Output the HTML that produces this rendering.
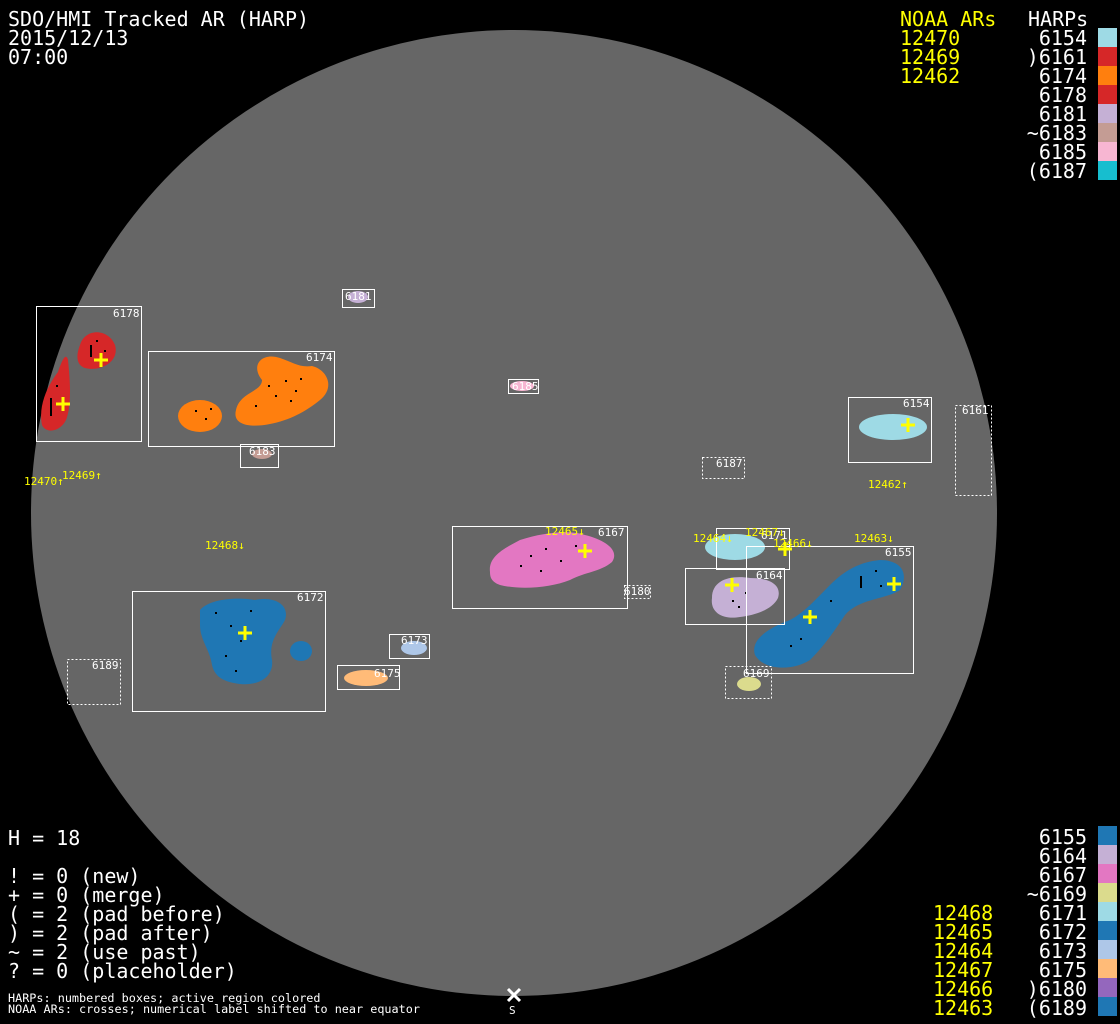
<!DOCTYPE html>
<html><head><meta charset="utf-8"><style>
html,body{margin:0;padding:0;background:#000;}
svg{display:block}
.m{font-family:"DejaVu Sans Mono","Liberation Mono",monospace;}
</style></head><body>
<svg width="1120" height="1024" viewBox="0 0 1120 1024" xmlns="http://www.w3.org/2000/svg" class="m">
<rect width="1120" height="1024" fill="#000"/>
<circle cx="514" cy="513" r="483" fill="#666"/>

<g>
<path d="M80,345 C85,328 108,328 115,345 C120,362 100,372 85,368 C76,365 76,355 80,345Z" fill="#d62728"/>
<path d="M42,425 C38,405 48,385 58,372 C62,360 66,352 68,360 C70,380 72,405 66,420 C60,432 46,434 42,425Z" fill="#d62728"/>
<ellipse cx="200" cy="416" rx="22" ry="16" fill="#ff7f0e"/>
<path d="M236,410 C240,392 262,392 262,380 C250,365 262,352 280,358 C292,362 300,368 312,366 C328,370 335,388 320,400 C305,412 290,420 270,424 C250,428 232,425 236,410Z" fill="#ff7f0e"/>
<path d="M490,572 C488,556 505,548 520,540 C545,532 570,530 585,535 C605,540 620,550 612,562 C600,572 585,572 570,580 C550,588 520,590 500,585 C492,582 490,578 490,572Z" fill="#e377c2"/>
<path d="M200,610 C210,598 240,597 255,600 C275,596 290,605 285,620 C280,630 268,640 272,660 C274,676 260,686 240,684 C225,682 215,678 212,665 C210,650 200,640 200,625Z" fill="#1f77b4"/>
<ellipse cx="301" cy="651" rx="11" ry="10" fill="#1f77b4"/>
<path d="M755,655 C750,640 768,628 790,620 C805,612 815,600 830,585 C845,570 860,562 880,560 C900,560 910,572 900,590 C885,600 860,598 845,615 C835,630 825,645 810,660 C795,670 765,672 755,655Z" fill="#1f77b4"/>
<path d="M712,598 C712,580 730,575 750,578 C770,578 782,585 778,598 C772,610 755,615 740,617 C722,620 710,612 712,598Z" fill="#c5b0d5"/>
<ellipse cx="735" cy="547" rx="30" ry="13" fill="#9edae5"/>
<ellipse cx="893" cy="427" rx="34" ry="13" fill="#9edae5"/>
<ellipse cx="749" cy="684" rx="12" ry="7" fill="#dbdb8d"/>
<ellipse cx="414" cy="648" rx="13" ry="7" fill="#aec7e8"/>
<ellipse cx="366" cy="678" rx="22" ry="8" fill="#ffbb78"/>
<ellipse cx="358" cy="297" rx="10" ry="6" fill="#c5b0d5"/>
<ellipse cx="522" cy="386" rx="12" ry="5" fill="#f7b6d2"/>
<ellipse cx="262" cy="454" rx="10" ry="5" fill="#c49c94"/>
</g>
<g fill="#000">
<rect x="90" y="345" width="2" height="12"/><rect x="96" y="340" width="2" height="2"/><rect x="104" y="350" width="2" height="2"/>
<rect x="50" y="398" width="2" height="18"/><rect x="56" y="385" width="2" height="2"/>
<rect x="268" y="385" width="2" height="2"/><rect x="275" y="395" width="2" height="2"/><rect x="285" y="380" width="2" height="2"/><rect x="295" y="390" width="2" height="2"/><rect x="300" y="378" width="2" height="2"/><rect x="255" y="405" width="2" height="2"/><rect x="290" y="400" width="2" height="2"/>
<rect x="195" y="410" width="2" height="2"/><rect x="205" y="418" width="2" height="2"/><rect x="210" y="408" width="2" height="2"/>
<rect x="530" y="555" width="2" height="2"/><rect x="545" y="548" width="2" height="2"/><rect x="560" y="560" width="2" height="2"/><rect x="575" y="545" width="2" height="2"/><rect x="540" y="570" width="2" height="2"/><rect x="520" y="565" width="2" height="2"/>
<rect x="230" y="625" width="2" height="2"/><rect x="240" y="640" width="2" height="2"/><rect x="225" y="655" width="2" height="2"/><rect x="250" y="610" width="2" height="2"/><rect x="235" y="670" width="2" height="2"/><rect x="215" y="612" width="2" height="2"/>
<rect x="790" y="645" width="2" height="2"/><rect x="800" y="638" width="2" height="2"/><rect x="830" y="600" width="2" height="2"/><rect x="860" y="576" width="2" height="12"/><rect x="875" y="570" width="2" height="2"/><rect x="880" y="585" width="2" height="2"/>
<rect x="732" y="600" width="2" height="2"/><rect x="745" y="592" width="2" height="2"/><rect x="738" y="606" width="2" height="2"/>
</g>

<g fill="none" stroke="#fff" stroke-width="1">
<rect x="36.5" y="306.5" width="105" height="135"/>
<rect x="148.5" y="351.5" width="186" height="95"/>
<rect x="240.5" y="444.5" width="38" height="23"/>
<rect x="342.5" y="289.5" width="32" height="18"/>
<rect x="508.5" y="379.5" width="30" height="14"/>
<rect x="848.5" y="397.5" width="83" height="65"/>
<rect x="452.5" y="526.5" width="175" height="82"/>
<rect x="716.5" y="528.5" width="73" height="41"/>
<rect x="685.5" y="568.5" width="99" height="56"/>
<rect x="746.5" y="546.5" width="167" height="127"/>
<rect x="132.5" y="591.5" width="193" height="120"/>
<rect x="389.5" y="634.5" width="40" height="24"/>
<rect x="337.5" y="665.5" width="62" height="24"/>
</g>
<g fill="none" stroke="#fff" stroke-width="1" stroke-dasharray="2,2">
<rect x="702.5" y="457.5" width="42" height="21"/>
<rect x="955.5" y="405.5" width="36" height="90"/>
<rect x="624.5" y="585.5" width="26" height="13"/>
<rect x="725.5" y="666.5" width="46" height="32"/>
<rect x="67.5" y="659.5" width="53" height="45"/>
</g>
<g fill="#fff" font-size="11">
<text x="113" y="317">6178</text><text x="306" y="361">6174</text>
<text x="249" y="455">6183</text><text x="345" y="300">6181</text>
<text x="512" y="390">6185</text><text x="716" y="467">6187</text>
<text x="903" y="407">6154</text><text x="962" y="414">6161</text>
<text x="598" y="536">6167</text><text x="624" y="595">6180</text>
<text x="761" y="539">6171</text><text x="756" y="579">6164</text>
<text x="885" y="556">6155</text><text x="743" y="677">6169</text>
<text x="297" y="601">6172</text><text x="401" y="644">6173</text>
<text x="374" y="677">6175</text><text x="92" y="669">6189</text>
</g>
<g fill="#ffff00" font-size="11">
<text x="24" y="485">12470↑</text><text x="62" y="479">12469↑</text>
<text x="205" y="549">12468↓</text><text x="868" y="488">12462↑</text>
<text x="545" y="535">12465↓</text><text x="693" y="542">12464↓</text>
<text x="745" y="536">12467↓</text><text x="773" y="547">12466↓</text>
<text x="854" y="542">12463↓</text>
</g>
<g stroke="#ffff00" stroke-width="3">
<path d="M94,360h14M101,353v14"/><path d="M56,404h14M63,397v14"/>
<path d="M578,551h14M585,544v14"/><path d="M901,425h14M908,418v14"/>
<path d="M238,633h14M245,626v14"/><path d="M725,585h14M732,578v14"/>
<path d="M778,549h14M785,542v14"/><path d="M887,584h14M894,577v14"/>
<path d="M803,617h14M810,610v14"/>
</g>

<g fill="#fff" font-size="20">
<text x="8" y="26">SDO/HMI Tracked AR (HARP)</text>
<text x="8" y="45">2015/12/13</text>
<text x="8" y="64">07:00</text>
<text x="1028" y="26">HARPs</text>
</g>
<g fill="#ffff00" font-size="20">
<text x="900" y="26">NOAA ARs</text>
<text x="900" y="45">12470</text><text x="900" y="64">12469</text><text x="900" y="83">12462</text>
</g>
<g fill="#fff" font-size="20" text-anchor="end">
<text x="1087" y="45">6154</text><text x="1087" y="64">)6161</text><text x="1087" y="83">6174</text>
<text x="1087" y="102">6178</text><text x="1087" y="121">6181</text><text x="1087" y="140">~6183</text>
<text x="1087" y="159">6185</text><text x="1087" y="178">(6187</text>
</g>
<g>
<rect x="1098" y="28" width="19" height="19" fill="#9edae5"/>
<rect x="1098" y="47" width="19" height="19" fill="#d62728"/>
<rect x="1098" y="66" width="19" height="19" fill="#ff7f0e"/>
<rect x="1098" y="85" width="19" height="19" fill="#d62728"/>
<rect x="1098" y="104" width="19" height="19" fill="#c5b0d5"/>
<rect x="1098" y="123" width="19" height="19" fill="#c49c94"/>
<rect x="1098" y="142" width="19" height="19" fill="#f7b6d2"/>
<rect x="1098" y="161" width="19" height="19" fill="#17becf"/>
</g>

<g fill="#fff" font-size="20">
<text x="8" y="845">H = 18</text>
<text x="8" y="883">! = 0 (new)</text>
<text x="8" y="902">+ = 0 (merge)</text>
<text x="8" y="921">( = 2 (pad before)</text>
<text x="8" y="940">) = 2 (pad after)</text>
<text x="8" y="959">~ = 2 (use past)</text>
<text x="8" y="978">? = 0 (placeholder)</text>
</g>
<g fill="#fff" font-size="11.8">
<text x="8" y="1002">HARPs: numbered boxes; active region colored</text>
<text x="8" y="1013">NOAA ARs: crosses; numerical label shifted to near equator</text>
<text x="509" y="1014" font-size="11">S</text>
</g>
<path d="M508,989l12,12M520,989l-12,12" stroke="#fff" stroke-width="3"/>

<g fill="#fff" font-size="20" text-anchor="end">
<text x="1087" y="844">6155</text><text x="1087" y="863">6164</text><text x="1087" y="882">6167</text>
<text x="1087" y="901">~6169</text><text x="1087" y="920">6171</text><text x="1087" y="939">6172</text>
<text x="1087" y="958">6173</text><text x="1087" y="977">6175</text><text x="1087" y="996">)6180</text>
<text x="1087" y="1015">(6189</text>
</g>
<g fill="#ffff00" font-size="20">
<text x="933" y="920">12468</text><text x="933" y="939">12465</text><text x="933" y="958">12464</text>
<text x="933" y="977">12467</text><text x="933" y="996">12466</text><text x="933" y="1015">12463</text>
</g>
<g>
<rect x="1098" y="826" width="19" height="19" fill="#1f77b4"/>
<rect x="1098" y="845" width="19" height="19" fill="#c5b0d5"/>
<rect x="1098" y="864" width="19" height="19" fill="#e377c2"/>
<rect x="1098" y="883" width="19" height="19" fill="#dbdb8d"/>
<rect x="1098" y="902" width="19" height="19" fill="#9edae5"/>
<rect x="1098" y="921" width="19" height="19" fill="#1f77b4"/>
<rect x="1098" y="940" width="19" height="19" fill="#aec7e8"/>
<rect x="1098" y="959" width="19" height="19" fill="#ffbb78"/>
<rect x="1098" y="978" width="19" height="19" fill="#9467bd"/>
<rect x="1098" y="997" width="19" height="19" fill="#1f77b4"/>
</g>
</svg>
</body></html>
